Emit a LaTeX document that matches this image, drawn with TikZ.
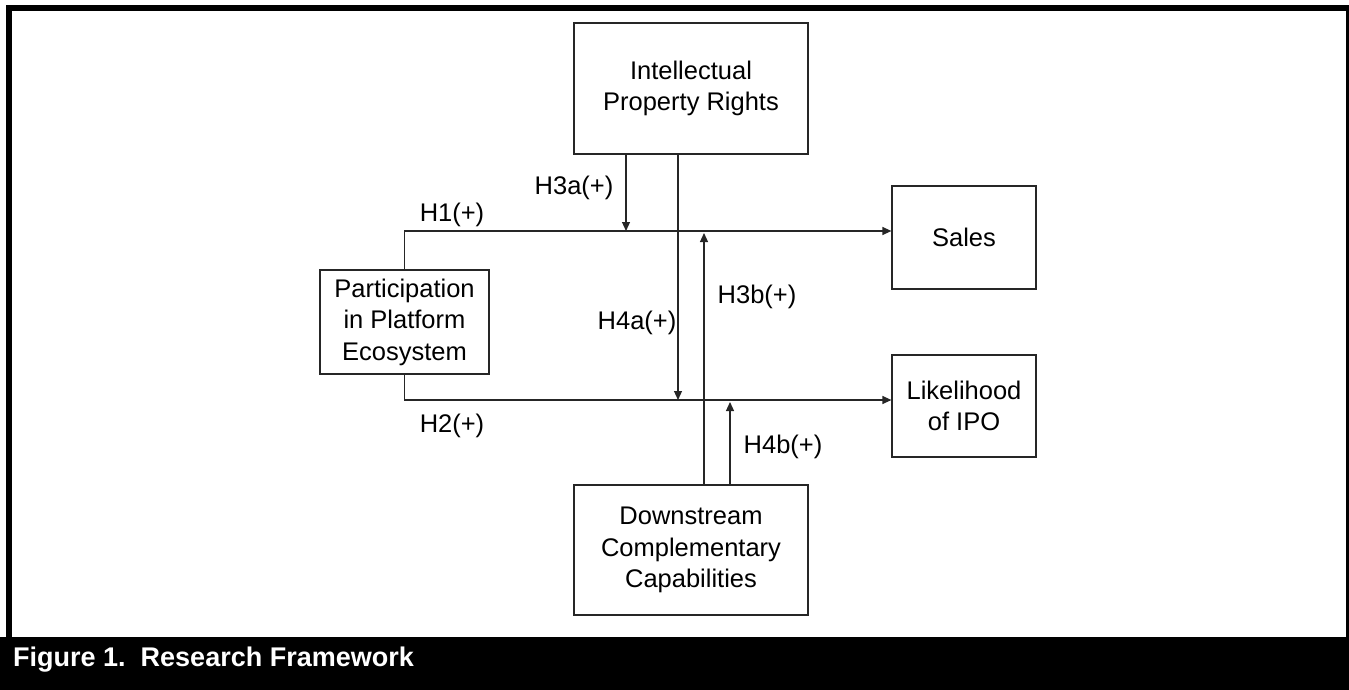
\documentclass[tikz,border=0pt]{standalone}
\usepackage{fontspec}
\setmainfont{Liberation Sans}
\usetikzlibrary{arrows.meta}
\begin{document}
\begin{tikzpicture}[x=1pt,y=-1pt,
    construct/.style={draw=black!85,line width=1.2pt,rectangle,align=center,inner sep=0pt,
      font=\fontsize{25.5}{31.5}\selectfont},
    hyp/.style={font=\fontsize{25.5}{31.5}\selectfont,inner sep=0pt},
    link/.style={draw=black!85,line width=1.2pt,-{Triangle[length=9pt,width=8pt]}}]
      \useasboundingbox (0,0) rectangle (1349,690);
      \draw[line width=6pt] (9,8) rectangle (1349,640);
      \fill (0,637) rectangle (1349,690);
      \node[anchor=base west,text=white,inner sep=0pt,font=\fontsize{27}{32}\selectfont\bfseries]
        (cap) at (13,666) {Figure 1.\ \ Research Framework};
      \draw
        (691,88.5) node[construct,minimum width=234pt,minimum height=131pt] (ipr){Intellectual\\Property Rights}
        (404.5,322) node[construct,minimum width=169pt,minimum height=104pt] (ppe){Participation\\in Platform\\Ecosystem}
        (964,237.5) node[construct,minimum width=144pt,minimum height=103pt] (sales){Sales}
        (964,406) node[construct,minimum width=144pt,minimum height=102pt] (ipo){Likelihood\\of IPO}
        (691,550) node[construct,minimum width=234pt,minimum height=130pt] (dcc){Downstream\\Complementary\\Capabilities};
      \coordinate (m3a) at (626,231);
      \coordinate (m4a) at (678,400);
      \coordinate (m3b) at (704,233);
      \coordinate (m4b) at (730,402);
      \begin{scope}[link]
        \draw (ppe.north) -- (ppe.north |- m3a) -- (sales.west |- m3a);
        \draw (ppe.south) -- (ppe.south |- m4a) -- (ipo.west |- m4a);
        \draw (ipr.south -| m3a) -- (m3a);
        \draw (ipr.south -| m4a) -- (m4a);
        \draw (dcc.north -| m3b) -- (m3b);
        \draw (dcc.north -| m4b) -- (m4b);
      \end{scope}
      \node[hyp] (h1) at (452,215) {H1(+)};
      \node[hyp] (h2) at (452,426) {H2(+)};
      \node[hyp] (h3a) at (574,188) {H3a(+)};
      \node[hyp] (h4a) at (637,323) {H4a(+)};
      \node[hyp] (h3b) at (757,297) {H3b(+)};
      \node[hyp] (h4b) at (783,447) {H4b(+)};
    \end{tikzpicture}
\end{document}
